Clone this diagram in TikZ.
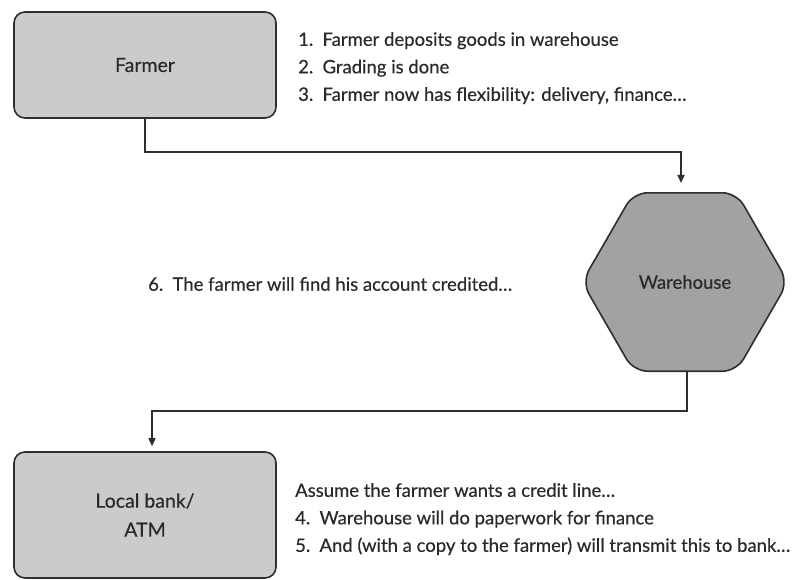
\documentclass[tikz,border=0pt]{standalone}
\usepackage{fontspec}
\setmainfont{Lato}[FakeBold=0.4]
\usetikzlibrary{arrows.meta,shapes.geometric}
\definecolor{edge}{HTML}{2E2E2E}
\definecolor{lightfill}{HTML}{CBCBCB}
\definecolor{darkfill}{HTML}{A2A2A2}
\definecolor{ink}{HTML}{2A2A2A}
\begin{document}
\begin{tikzpicture}[x=1pt,y=-1pt,
  every node/.style={text=ink, font=\fontsize{18.5}{27.5}\selectfont},
  boxshape/.style={draw=edge, line width=1.6pt, fill=lightfill, rounded corners=11pt,
    minimum width=262pt, align=center, font=\fontsize{19.5}{29}\selectfont},
  hexshape/.style={draw=edge, line width=1.6pt, fill=darkfill, rounded corners=14pt,
    regular polygon, regular polygon sides=6, minimum size=206pt, inner sep=0pt},
  conn/.style={draw=edge, line width=1.6pt, -{Triangle[length=8pt,width=7pt]}},
  note/.style={align=left, inner sep=0pt}]
\useasboundingbox[fill=white] (0,0) rectangle (801,579);

% parties
\node[boxshape, minimum height=106pt] (farmer) at (145,65) {Farmer};
\node[hexshape] (warehouse) at (685,282) {Warehouse};
\node[boxshape, minimum height=126pt] (bank) at (145,515) {Local bank/\\ATM};

% flow of goods and paperwork
\draw[conn, shorten >=9pt] (farmer.south) |- (400,152) -| ([xshift=-4pt]warehouse.north);
\draw[conn, shorten >=5pt] ([xshift=2pt]warehouse.south) |- (400,411) -| ([xshift=7pt]bank.north);

% explanatory notes
\node[note, anchor=north west] (steps1) at (298,32)
  {1.\enspace Farmer deposits goods in warehouse\\
   2.\enspace Grading is done\\
   3.\enspace Farmer now has flexibility: delivery, finance\ldots};
\node[note, anchor=west] (step6) at (148,284)
  {6.\enspace The farmer will find his account credited\ldots};
\node[note, anchor=north west] (steps2) at (295,483)
  {Assume the farmer wants a credit line\ldots\\
   4.\enspace Warehouse will do paperwork for finance\\
   5.\enspace And (with a copy to the farmer) will transmit this to bank\ldots};
\end{tikzpicture}
\end{document}
